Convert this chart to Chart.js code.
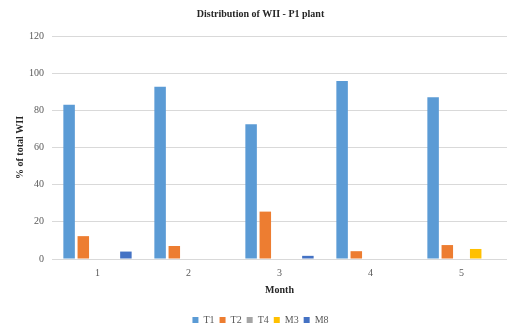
<!DOCTYPE html>
<html>
<head>
<meta charset="utf-8">
<script src="https://cdn.jsdelivr.net/npm/chart.js@4/dist/chart.umd.min.js"></script>
<style>
  html, body { margin: 0; padding: 0; background: #ffffff; }
  #wrap { width: 508px; height: 328px; }
</style>
</head>
<body>
<div id="wrap"><canvas id="c" width="508" height="328"></canvas></div>
<script>
// Months on the x axis
const months = ['1', '2', '3', '4', '5'];

// Share of total WII per source (%)
const t1 = [83, 92.7, 72.5, 95.8, 87];
const t2 = [12.3, 7, 25.5, 4.2, 7.5];
const t4 = [0, 0, 0, 0, 0];
const m3 = [0, 0, 0, 0, 5.4];
const m8 = [4, 0, 1.7, 0, 0];

const yTicks = [0, 20, 40, 60, 80, 100, 120];

const serif = "'Liberation Serif', 'Times New Roman', serif";

new Chart(document.getElementById('c'), {
  type: 'bar',
  data: {
    labels: months,
    datasets: [
      { label: 'T1', data: t1, backgroundColor: '#5B9BD5' },
      { label: 'T2', data: t2, backgroundColor: '#ED7D31' },
      { label: 'T4', data: t4, backgroundColor: '#A5A5A5' },
      { label: 'M3', data: m3, backgroundColor: '#FFC000' },
      { label: 'M8', data: m8, backgroundColor: '#4472C4' }
    ]
  },
  options: {
    responsive: false,
    animation: false,
    devicePixelRatio: 1,
    layout: { padding: { left: 14, right: 1, top: 4, bottom: -7 } },
    datasets: {
      bar: { categoryPercentage: 0.78, barPercentage: 0.81 }
    },
    plugins: {
      title: {
        display: true,
        text: 'Distribution of WII - P1 plant',
        color: '#262626',
        font: { family: serif, size: 10, weight: 'bold' },
        padding: { top: 4, bottom: 16 }
      },
      legend: {
        position: 'bottom',
        labels: {
          color: '#595959',
          font: { family: serif, size: 10 },
          boxWidth: 6,
          boxHeight: 6,
          padding: 5
        }
      },
      tooltip: { enabled: false }
    },
    scales: {
      x: {
        grid: { display: false, drawTicks: false },
        border: { display: false },
        ticks: { color: '#595959', font: { family: serif, size: 10, lineHeight: 1 }, padding: 9 },
        title: {
          display: true,
          text: 'Month',
          color: '#262626',
          font: { family: serif, size: 10, weight: 'bold' },
          padding: { top: -3, bottom: 14 }
        }
      },
      y: {
        min: 0,
        max: 120,
        afterBuildTicks: (axis) => { axis.ticks = yTicks.map(v => ({ value: v })); },
        grid: { color: '#D9D9D9', lineWidth: 1, drawTicks: false },
        border: { display: false },
        ticks: { color: '#595959', font: { family: serif, size: 10 }, padding: 8 },
        title: {
          display: true,
          text: '% of total WII',
          color: '#262626',
          font: { family: serif, size: 10, weight: 'bold' },
          padding: { top: 0, bottom: -5 }
        }
      }
    }
  }
});
</script>
</body>
</html>
